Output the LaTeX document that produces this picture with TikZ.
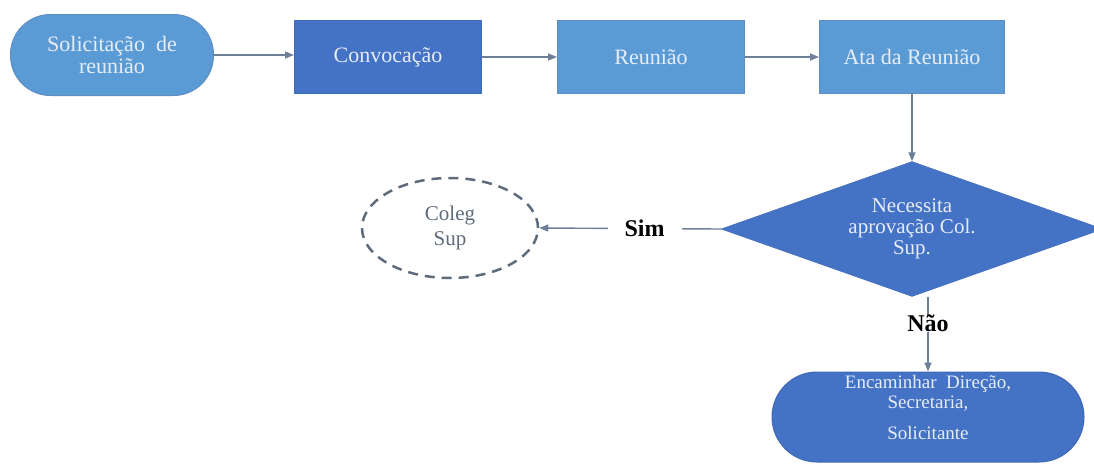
\documentclass[tikz,border=0pt]{standalone}
\usepackage{fontspec}
\setmainfont{Liberation Serif}
\usetikzlibrary{shapes.geometric,arrows.meta}
\definecolor{lblue}{HTML}{5B9BD5}
\definecolor{dblue}{HTML}{4472C4}
\definecolor{lborder}{HTML}{5E8DC2}
\definecolor{dborder}{HTML}{3F68B5}
\definecolor{boxtext}{HTML}{E6EDF7}
\definecolor{conncol}{HTML}{6E7F99}
\definecolor{dashc}{HTML}{5E6B7B}
\begin{document}
\begin{tikzpicture}[x=1pt,y=-1pt,
  every node/.style={font=\fontsize{22}{22}\selectfont, align=center},
  lbox/.style={draw=lborder, fill=lblue, text=boxtext, minimum width=187pt, minimum height=73pt, line width=1pt},
  dbox/.style={lbox, draw=dborder, fill=dblue},
  conn/.style={draw=conncol, line width=1.4pt, -{Triangle[length=9pt,width=7pt]}},
  simlbl/.style={fill=white, font=\bfseries\fontsize{24}{26}\selectfont, text=black, inner xsep=17pt, inner ysep=2pt},
  naolbl/.style={fill=white, font=\bfseries\fontsize{24}{26}\selectfont, text=black, inner xsep=4pt, inner ysep=0pt}
]
\clip (0,0) rectangle (1094,466);
\node[lbox, rounded corners=40pt, minimum width=203pt, minimum height=81pt] (sol) at (112,55) {Solicitação\ \ de\\reunião};
\node[dbox] (conv) at (388,57) {Convocação};
\node[lbox] (reu) at (651,57) {Reunião};
\node[lbox, minimum width=185pt] (ata) at (912,57) {Ata da Reunião};
\node[diamond, draw=dborder, fill=dblue, text=boxtext, minimum width=382pt, minimum height=135pt, aspect=2.83, inner sep=0pt, font=\fontsize{21}{21}\selectfont] (dec) at (912,229) {Necessita\\aprovação Col.\\Sup.};
\node[ellipse, draw=dashc, dash pattern=on 10pt off 7pt, line width=2.5pt, minimum width=176pt, minimum height=100pt, text=dashc, font=\fontsize{21}{21}\selectfont] (col) at (450,228) {Coleg\\[4pt]Sup};
\node[dbox, rounded corners=45pt, minimum width=312pt, minimum height=90pt] (enc) at (928,417) {};
\node[text=boxtext, font=\fontsize{19}{20}\selectfont] (enctxt) at (928,407) {Encaminhar\ \ Direção,\\Secretaria,\\[11pt]Solicitante};
\draw[conn] (sol.east) -- (sol.east -| conv.west);
\draw[conn] (conv.east) -- (reu.west);
\draw[conn] (reu.east) -- (ata.west);
\draw[conn] (ata.south) -- (dec.north);
\draw[conn] (dec.west) -- node[simlbl, pos=0.42]{Sim} (col.east);
\draw[conn] (dec.south -| enc.north) -- node[naolbl, pos=0.36]{Não} (enc.north);
\end{tikzpicture}
\end{document}
